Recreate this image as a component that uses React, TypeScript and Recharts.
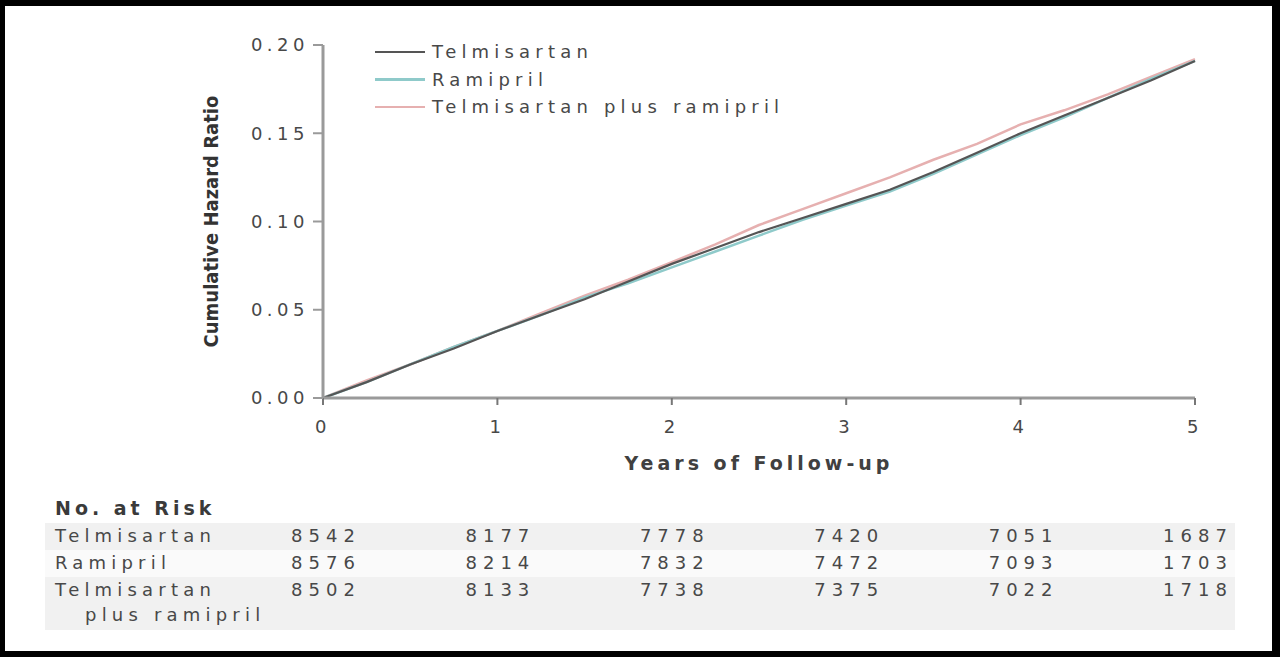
import { Label, Line, LineChart, XAxis, YAxis } from "recharts";

const years = [0, 0.25, 0.5, 0.75, 1, 1.25, 1.5, 1.75, 2, 2.25, 2.5, 2.75, 3, 3.25, 3.5, 3.75, 4, 4.25, 4.5, 4.75, 5];
const telmisartan = [0, 0.009, 0.019, 0.028, 0.038, 0.047, 0.056, 0.066, 0.076, 0.085, 0.094, 0.102, 0.11, 0.118, 0.128, 0.139, 0.15, 0.16, 0.17, 0.18, 0.191];
const ramipril = [0, 0.009, 0.019, 0.029, 0.038, 0.047, 0.057, 0.065, 0.074, 0.083, 0.092, 0.101, 0.109, 0.117, 0.127, 0.138, 0.149, 0.159, 0.17, 0.181, 0.191];
const combination = [0, 0.01, 0.019, 0.029, 0.038, 0.048, 0.058, 0.067, 0.077, 0.087, 0.098, 0.107, 0.116, 0.125, 0.135, 0.144, 0.155, 0.163, 0.172, 0.182, 0.192];

const xTicks = [0, 1, 2, 3, 4, 5];
const yTicks = [0, 0.05, 0.1, 0.15, 0.2];

const seriesNames = ["Telmisartan", "Ramipril", "Telmisartan plus ramipril"];
const seriesColors = ["#555555", "#8fcaca", "#e6b0b0"];

const riskTelmisartan = [8542, 8177, 7778, 7420, 7051, 1687];
const riskRamipril = [8576, 8214, 7832, 7472, 7093, 1703];
const riskCombination = [8502, 8133, 7738, 7375, 7022, 1718];

const data = years.map((t, i) => ({
  t,
  telmisartan: telmisartan[i],
  ramipril: ramipril[i],
  combination: combination[i],
}));

const FONT = "'DejaVu Sans', Verdana, sans-serif";
const TEXT = "#484848";
const AXIS = "#9a9a9a";

// plot box
const PLOT_LEFT = 323;
const PLOT_RIGHT = 1195;
const PLOT_TOP = 45;
const PLOT_BOTTOM = 398;
const Y_AXIS_W = 120;
const X_AXIS_H = 80;

const tickStyle = { fill: TEXT, fontSize: 18, fontFamily: FONT, letterSpacing: 4.5 };
const rowText = { fontSize: 18, letterSpacing: 5.2, color: TEXT, whiteSpace: "nowrap" as const };

function ChartLegend() {
  return (
    <div style={{ position: "absolute", left: 375, top: 38, fontFamily: FONT }}>
      {seriesNames.map((name, i) => (
        <div key={name} style={{ display: "flex", alignItems: "center", height: 27.5 }}>
          <div style={{ width: 50, height: 2.5, background: seriesColors[i], marginRight: 7 }} />
          <span style={rowText}>{name}</span>
        </div>
      ))}
    </div>
  );
}

function RiskRow({ label, values, top, shade, extra }: { label: string; values: number[]; top: number; shade: string; extra?: string }) {
  const step = (PLOT_RIGHT - PLOT_LEFT) / (values.length - 1);
  return (
    <div style={{ position: "absolute", left: 45, top, width: 1190, height: extra ? 53 : 27, background: shade }}>
      <div style={{ ...rowText, position: "absolute", left: 10, top: 2 }}>{label}</div>
      {extra && <div style={{ ...rowText, position: "absolute", left: 40, top: 27 }}>{extra}</div>}
      {values.map((v, i) => (
        <div
          key={i}
          style={{
            ...rowText,
            position: "absolute",
            left: PLOT_LEFT - 45 + i * step - 40,
            width: 86,
            top: 2,
            textAlign: "center",
            letterSpacing: 6,
          }}
        >
          {v}
        </div>
      ))}
    </div>
  );
}

export default function App() {
  return (
    <div style={{ position: "absolute", left: 0, top: 0, width: 1280, height: 657, background: "#000", fontFamily: FONT }}>
      <div style={{ position: "absolute", left: 5, top: 6, width: 1267, height: 645, background: "#fff" }} />
      <div style={{ position: "absolute", left: 0, top: 0 }}>
        <LineChart
          width={1280}
          height={657}
          data={data}
          margin={{ top: PLOT_TOP, right: 1280 - PLOT_RIGHT, left: PLOT_LEFT - Y_AXIS_W, bottom: 657 - PLOT_BOTTOM - X_AXIS_H }}
        >
          <XAxis
            dataKey="t"
            type="number"
            domain={[0, 5]}
            ticks={xTicks}
            height={X_AXIS_H}
            tick={tickStyle}
            tickSize={7}
            tickMargin={15}
            axisLine={{ stroke: AXIS, strokeWidth: 3 }}
            tickLine={{ stroke: "#777", strokeWidth: 2 }}
          >
            <Label
              value="Years of Follow-up"
              position="insideBottom"
              offset={8}
              style={{ fill: "#404040", fontSize: 19, fontWeight: "bold", fontFamily: FONT, letterSpacing: 4 }}
            />
          </XAxis>
          <YAxis
            type="number"
            domain={[0, 0.2]}
            ticks={yTicks}
            width={Y_AXIS_W}
            tick={tickStyle}
            tickFormatter={(v: number) => v.toFixed(2)}
            tickSize={10}
            tickMargin={4}
            axisLine={{ stroke: AXIS, strokeWidth: 3 }}
            tickLine={{ stroke: AXIS, strokeWidth: 2 }}
          >
            <Label
              value="Cumulative Hazard Ratio"
              angle={-90}
              position="insideLeft"
              offset={0}
              dx={8}
              style={{
                fill: "#333",
                fontSize: 20,
                fontWeight: "bold",
                fontFamily: "'DejaVu Sans Condensed', 'Liberation Sans Narrow', sans-serif",
                fontStretch: "condensed",
                textAnchor: "middle",
              }}
            />
          </YAxis>
          <Line dataKey="combination" name={seriesNames[2]} stroke={seriesColors[2]} strokeWidth={2.5} dot={false} isAnimationActive={false} />
          <Line dataKey="ramipril" name={seriesNames[1]} stroke={seriesColors[1]} strokeWidth={2.5} dot={false} isAnimationActive={false} />
          <Line dataKey="telmisartan" name={seriesNames[0]} stroke={seriesColors[0]} strokeWidth={2.2} dot={false} isAnimationActive={false} />
        </LineChart>
      </div>
      <ChartLegend />
      <div style={{ position: "absolute", left: 55, top: 497, fontSize: 19, fontWeight: "bold", letterSpacing: 4, color: "#3a3a3a" }}>No. at Risk</div>
      <RiskRow label="Telmisartan" values={riskTelmisartan} top={523} shade="#f1f1f1" />
      <RiskRow label="Ramipril" values={riskRamipril} top={550} shade="#fafafa" />
      <RiskRow label="Telmisartan" extra="plus ramipril" values={riskCombination} top={577} shade="#f1f1f1" />
    </div>
  );
}
